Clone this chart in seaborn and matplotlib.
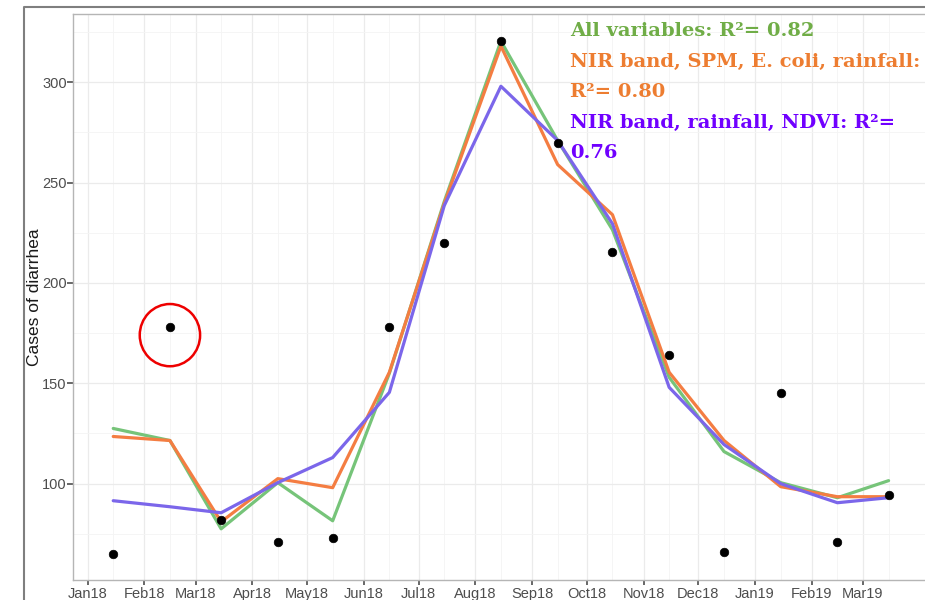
import pandas as pd
import numpy as np
import matplotlib
matplotlib.use('Agg')
import matplotlib.pyplot as plt
import matplotlib.dates as mdates
from matplotlib.patches import Ellipse
from matplotlib.lines import Line2D
import seaborn as sns

# monthly observations (mid-month)
months = ['2018-01-15', '2018-02-15', '2018-03-15', '2018-04-15', '2018-05-15',
          '2018-06-15', '2018-07-15', '2018-08-15', '2018-09-15', '2018-10-15',
          '2018-11-15', '2018-12-15', '2019-01-15', '2019-02-15', '2019-03-15']
observed = [65, 178, 82, 71, 73, 178, 220, 320.5, 269.5, 215.5, 164, 66, 145, 71, 94.5]

# fitted values of the three models
all_vars = [127.5, 121.5, 77.5, 100.5, 81.5, 155, 240.5, 320.5, 271, 226.5, 153, 116, 100.5, 93, 101.5]
nir_spm = [123.5, 121.5, 81, 102.5, 98, 155.5, 239.5, 318, 259, 234, 155.5, 121.5, 98.5, 93.5, 93.5]
nir_ndvi = [91.5, 88.5, 85.5, 100.5, 113, 145.5, 238.5, 298, 271, 229.5, 148, 119.5, 100, 90.5, 93]

models = ['All variables', 'NIR band, SPM, E. coli, rainfall', 'NIR band, rainfall, NDVI']
line_colors = ['#76c479', '#f47d42', '#7b66ea']
text_colors = ['#70ad47', '#ed7d31', '#7000ff']
r2 = ['0.82', '0.80', '0.76']

dates = pd.to_datetime(months)
fits = pd.DataFrame({'date': np.tile(dates, 3),
                     'cases': all_vars + nir_spm + nir_ndvi,
                     'model': np.repeat(models, len(dates))})
obs = pd.DataFrame({'date': dates, 'cases': observed})

sns.set_theme(style='whitegrid')
plt.rcParams['font.family'] = ['Liberation Sans', 'DejaVu Sans']

fig = plt.figure(figsize=(9.25, 6), dpi=100)
ax = fig.add_axes([73 / 925, 1 - 579.6 / 600, (927 - 73) / 925, (579.6 - 14) / 600])

sns.lineplot(data=fits, x='date', y='cases', hue='model', palette=line_colors,
             linewidth=2.3, legend=False, ax=ax)
sns.scatterplot(data=obs, x='date', y='cases', color='black', s=38, edgecolor='black',
                zorder=5, ax=ax)

# highlight February 2018
feb = obs.iloc[1]
ax.add_patch(Ellipse((mdates.date2num(feb['date']), feb['cases'] - 4), width=33, height=31,
                     fill=False, edgecolor='#ee0000', linewidth=1.8, zorder=6))

ax.set_xlim(pd.Timestamp('2017-12-24'), pd.Timestamp('2019-04-05'))
ax.set_ylim(52.2, 334)
ax.set_xticks(pd.date_range('2018-01-01', '2019-03-01', freq='MS'))
ax.xaxis.set_major_formatter(mdates.DateFormatter('%b%y'))
ax.set_xticks(pd.date_range('2018-01-15', '2019-03-15', freq='SMS')[::2], minor=True)
ax.yaxis.set_major_locator(plt.MultipleLocator(50))
ax.yaxis.set_minor_locator(plt.MultipleLocator(25))

ax.grid(which='major', color='#ebebeb', linewidth=0.9)
ax.grid(which='minor', color='#f4f4f4', linewidth=0.6)
ax.tick_params(which='major', length=3.5, color='#555555', labelcolor='#4d4d4d',
               labelsize=10.5, pad=2, bottom=True, left=True)
ax.tick_params(axis='y', length=4, pad=0.5)
ax.tick_params(which='minor', length=0)
for side, sp in ax.spines.items():
    sp.set_color('#b5b5b5')
    sp.set_linewidth(1.0)
ax.spines['right'].set_visible(False)

ax.set_xlabel('')
ax.set_ylabel('Cases of diarrhea', fontsize=12.5, color='#1a1a1a', labelpad=0)

# model annotations
x0 = 570 / 925
lines = [(f'{models[0]}: R²= {r2[0]}', text_colors[0], 31),
         (f'{models[1]}:', text_colors[1], 62),
         (f'R²= {r2[1]}', text_colors[1], 92),
         (f'{models[2]}: R²=', text_colors[2], 123),
         (r2[2], text_colors[2], 153)]
for txt, col, ypix in lines:
    fig.text(x0, 1 - ypix / 600, txt, color=col, fontsize=14, fontweight='bold',
             family=['DejaVu Serif'], va='center', ha='left')

# outer frame of the screenshot (left and top edges only)
fx, fy = 24 / 925, 1 - 7 / 600
fig.lines.append(Line2D([fx, fx, 1.01], [-0.01, fy, fy], transform=fig.transFigure,
                        color='#7f7f7f', linewidth=1.5))

fig.savefig('out.png', dpi=100)
